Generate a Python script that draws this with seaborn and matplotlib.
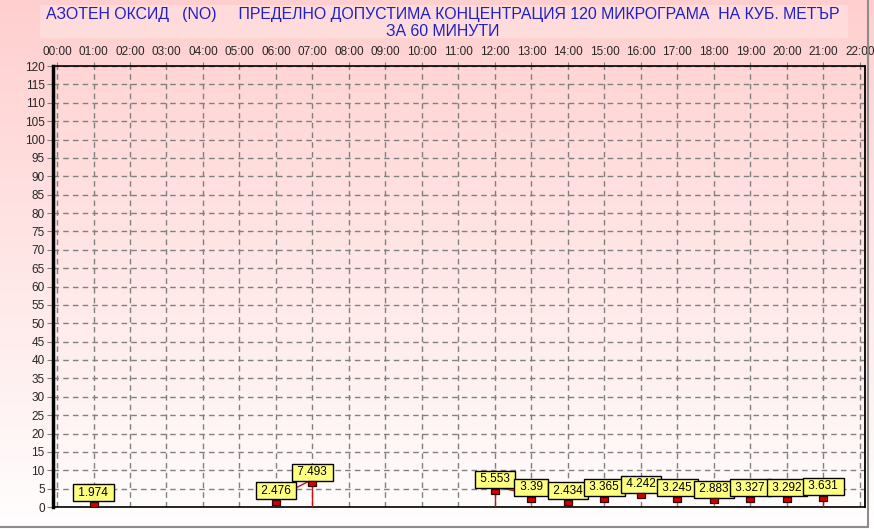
import numpy as np
import pandas as pd
import matplotlib.pyplot as plt
import seaborn as sns
from matplotlib.lines import Line2D
from matplotlib.patches import Rectangle
from matplotlib.markers import MarkerStyle

# Hourly NO values (micrograms per m3)
hours = ['01:00', '06:00', '07:00', '12:00', '13:00', '14:00', '15:00',
         '16:00', '17:00', '18:00', '19:00', '20:00', '21:00']
values = [1.974, 2.476, 7.493, 5.553, 3.39, 2.434, 3.365,
          4.242, 3.245, 2.883, 3.327, 3.292, 3.631]
segments = [0, 1, 1, 2, 2, 2, 2, 2, 2, 2, 2, 2, 2]
drop_hours = ['07:00', '12:00', '21:00']
tick_hours = ['%02d:00' % h for h in range(23)]
y_ticks = list(range(0, 121, 5))

title_line1 = 'АЗОТЕН ОКСИД   (NO)     ПРЕДЕЛНО ДОПУСТИМА КОНЦЕНТРАЦИЯ 120 МИКРОГРАМА  НА КУБ. МЕТЪР'
title_line2 = 'ЗА 60 МИНУТИ'


def to_num(h):
    return int(h.split(':')[0])


df = pd.DataFrame({'hour': [to_num(h) for h in hours], 'value': values,
                   'segment': segments, 'label': [str(v) for v in values]})

sns.set_style('ticks')
plt.rcParams['font.family'] = ['Liberation Sans', 'DejaVu Sans']

W, H = 874, 529
fig = plt.figure(figsize=(W / 100, H / 100), dpi=100)

# background gradient (pink at top to white at bottom)
bg = fig.add_axes([0, 0, 1, 1], zorder=-10)
g = np.linspace(207, 254, 256) / 255.0
img = np.zeros((256, 1, 3))
img[:, 0, 0] = 1.0
img[:, 0, 1] = g
img[:, 0, 2] = g
bg.imshow(img, aspect='auto', extent=[0, 1, 0, 1])
bg.set_xlim(0, 1)
bg.set_ylim(0, 1)
bg.axis('off')

# title box
fig.add_artist(Rectangle((40 / W, 1 - 38 / H), (848 - 40) / W, 33 / H,
                         transform=fig.transFigure, facecolor='white',
                         alpha=0.25, edgecolor='none'))
fig.text(443 / W, 1 - 15 / H, title_line1, ha='center', va='center',
         fontsize=11.4, color='#2020C4')
fig.text(443 / W, 1 - 31 / H, title_line2, ha='center', va='center',
         fontsize=11.4, color='#2020C4')

# main axes
ax = fig.add_axes([53 / W, 22 / H, (865 - 53) / W, (507 - 66) / H])
ax.set_facecolor('none')

line_color = '#C81010'
sns.lineplot(data=df, x='hour', y='value', units='segment', estimator=None,
             color=line_color, linewidth=1, ax=ax, legend=False, zorder=3)
drops = df[df['hour'].isin([to_num(h) for h in drop_hours])]
ax.vlines(drops['hour'], 0, drops['value'], color=line_color, linewidth=1, zorder=3)

# small red rectangle hanging just below each value
rect_marker = MarkerStyle([(-1, -0.4), (1, -0.4), (1, -1.5), (-1, -1.5), (-1, -0.4)])
sns.scatterplot(data=df, x='hour', y='value', marker=rect_marker, s=94,
                color='#D40000', edgecolor='#300808', linewidth=0.9,
                ax=ax, legend=False, zorder=6)

for _, r in df.iterrows():
    ax.annotate(' %s ' % r['label'], (r['hour'], r['value']),
                xytext=(0, 5.2), textcoords='offset points',
                ha='center', va='center', fontsize=8.5, color='black', zorder=5,
                bbox=dict(boxstyle='square,pad=0.2', fc='#FFFF80', ec='black', lw=1))

ax.set_xlim(-0.11, 22.14)
ax.set_ylim(0, 120)
ax.set_xticks(range(23))
ax.set_xticklabels(tick_hours)
ax.set_yticks(y_ticks)
ax.set_yticklabels([str(t) for t in y_ticks])
ax.xaxis.tick_top()
ax.tick_params(axis='x', length=3, color='#808080', labelsize=8.5, pad=3)
ax.tick_params(axis='y', length=4, color='#808080', labelsize=8.5, pad=2)
ax.set_xlabel('')
ax.set_ylabel('')
ax.grid(True, color='#808080', linestyle=(0, (4, 3)), linewidth=1)
ax.set_axisbelow(True)

ax.spines['left'].set_linewidth(2.5)
ax.spines['left'].set_color('black')
ax.spines['right'].set_linewidth(1.3)
ax.spines['right'].set_color('black')
for s in ['top', 'bottom']:
    ax.spines[s].set_linewidth(1.2)
    ax.spines[s].set_color('black')
    ax.spines[s].set_linestyle((0, (3, 1)))

# outer grey frame (bottom and right)
fig.add_artist(Line2D([0, 868 / W], [2 / H, 2 / H], color='#8C8C8C', lw=1.5,
                      transform=fig.transFigure))
fig.add_artist(Line2D([868 / W, 868 / W], [2 / H, 1], color='#8C8C8C', lw=1.5,
                      transform=fig.transFigure))

fig.savefig('out.png', dpi=100)
